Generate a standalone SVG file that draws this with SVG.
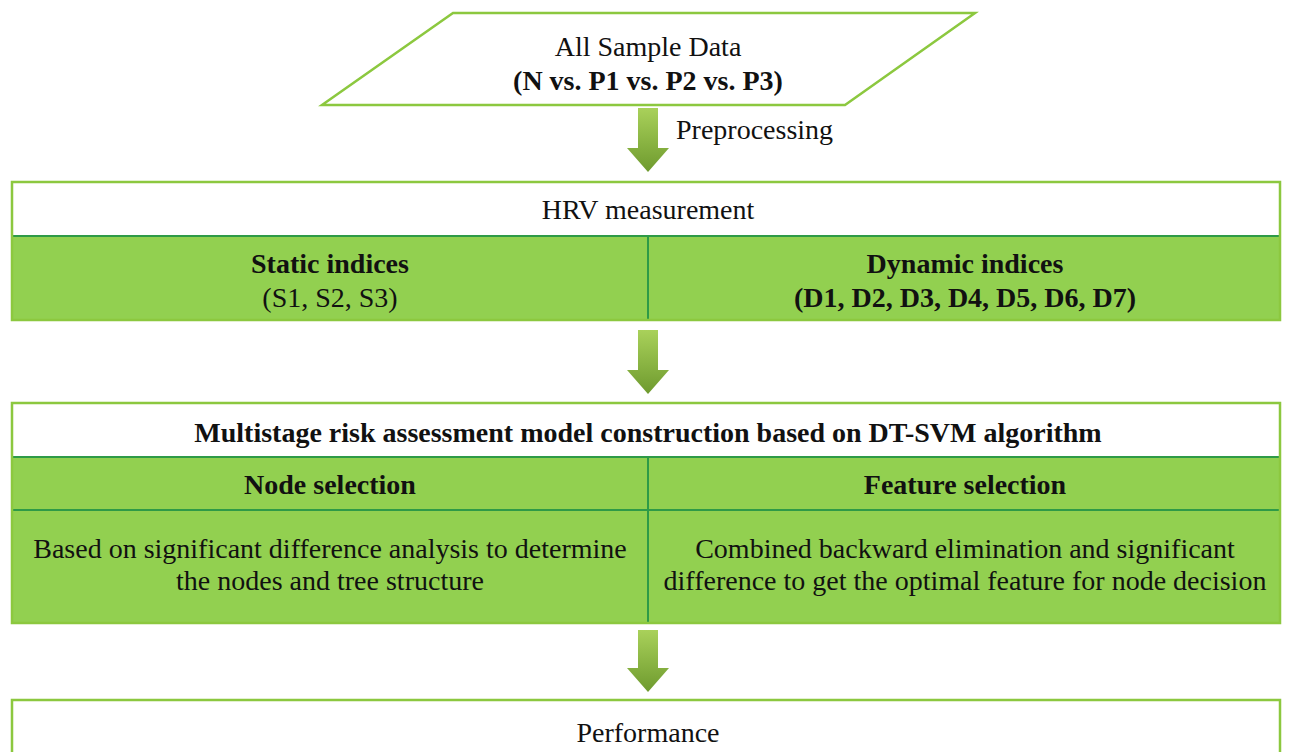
<svg xmlns="http://www.w3.org/2000/svg" width="1290" height="752" viewBox="0 0 1290 752">
<defs>
<linearGradient id="ag" x1="0" y1="0" x2="0" y2="1">
<stop offset="0" stop-color="#a9d15a"/>
<stop offset="1" stop-color="#6e9a2e"/>
</linearGradient>
<style>
text{font-family:"Liberation Serif","Times New Roman",serif;font-size:28px;fill:#111;text-anchor:middle}
.b{font-weight:bold}
.white{fill:#fff;stroke:#8cc83f;stroke-width:2.5}
.green{fill:#92d050;stroke:none}
.inner{stroke:#2e9a47;stroke-width:2;fill:none}
.outer{fill:none;stroke:#8cc83f;stroke-width:2.5}
.arrow{fill:url(#ag)}
</style>
</defs>
<g id="connectors">
<path class="arrow" d="M638,108 H658 V148 H669 L648,172 L627,148 H638 Z"/>
<path class="arrow" d="M638,330 H658 V370 H669 L648,394 L627,370 H638 Z"/>
<path class="arrow" d="M638,630 H658 V668 H669 L648,692 L627,668 H638 Z"/>
<text x="676" y="139" style="text-anchor:start">Preprocessing</text>
</g>
<g id="data">
<polygon class="white" points="453,13 975,13 845,105 322,105"/>
<text x="648" y="56">All Sample Data</text>
<text x="648" y="90" class="b">(N vs. P1 vs. P2 vs. P3)</text>
</g>
<g id="hrv">
<rect x="12" y="182" width="1268" height="138" fill="#fff"/>
<rect class="green" x="12" y="236" width="1268" height="84"/>
<line class="inner" x1="12" y1="236" x2="1280" y2="236"/>
<line class="inner" x1="648" y1="236" x2="648" y2="320"/>
<line class="inner" x1="12" y1="320" x2="1280" y2="320"/>
<rect class="outer" x="12" y="182" width="1268" height="138"/>
<text x="648" y="219">HRV measurement</text>
<text x="330" y="273" class="b">Static indices</text>
<text x="330" y="307">(S1, S2, S3)</text>
<text x="965" y="273" class="b">Dynamic indices</text>
<text x="965" y="307" class="b">(D1, D2, D3, D4, D5, D6, D7)</text>
</g>
<g id="model">
<rect x="12" y="403" width="1268" height="220" fill="#fff"/>
<rect class="green" x="12" y="457" width="1268" height="166"/>
<line class="inner" x1="12" y1="457" x2="1280" y2="457"/>
<line class="inner" x1="12" y1="510" x2="1280" y2="510"/>
<line class="inner" x1="648" y1="457" x2="648" y2="623"/>
<line class="inner" x1="12" y1="623" x2="1280" y2="623"/>
<rect class="outer" x="12" y="403" width="1268" height="220"/>
<text x="648" y="442" class="b">Multistage risk assessment model construction based on DT-SVM algorithm</text>
<text x="330" y="494" class="b">Node selection</text>
<text x="965" y="494" class="b">Feature selection</text>
<text x="330" y="558">Based on significant difference analysis to determine</text>
<text x="330" y="590">the nodes and tree structure</text>
<text x="965" y="558">Combined backward elimination and significant</text>
<text x="965" y="590">difference to get the optimal feature for node decision</text>
</g>
<g id="performance">
<rect class="white" x="12" y="700" width="1268" height="60"/>
<text x="648" y="742">Performance</text>
</g>
</svg>
